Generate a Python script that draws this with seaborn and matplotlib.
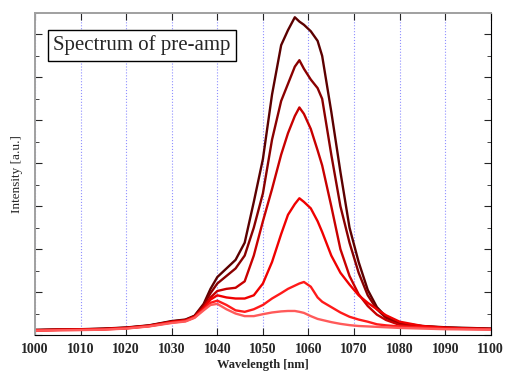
import numpy as np
import pandas as pd
import matplotlib
matplotlib.use('Agg')
import matplotlib.pyplot as plt
from matplotlib.ticker import MultipleLocator
import seaborn as sns

# wavelength grid (nm)
wavelength = [1000, 1005, 1010, 1015, 1020, 1025, 1030, 1033, 1035, 1037, 1038.5,
              1040, 1042, 1044, 1046, 1048, 1050, 1052, 1054, 1055.5, 1057, 1058,
              1059, 1060.5, 1062, 1063, 1065, 1067, 1069, 1071, 1073, 1075, 1077,
              1080, 1085, 1090, 1095, 1100]

# intensity (a.u.), darkest (highest pump) first
spec1 = [0.24, 0.26, 0.27, 0.30, 0.35, 0.45, 0.65, 0.72, 0.90, 1.45, 2.15,
         2.7, 3.1, 3.5, 4.3, 6.2, 8.2, 11.2, 13.5, 14.2, 14.8, 14.6,
         14.45, 14.15, 13.7, 13.0, 10.4, 7.6, 5.0, 3.4, 2.1, 1.3, 0.85,
         0.55, 0.42, 0.36, 0.33, 0.30]
spec2 = [0.23, 0.25, 0.26, 0.29, 0.34, 0.44, 0.63, 0.70, 0.88, 1.40, 1.95,
         2.4, 2.75, 3.1, 3.7, 5.0, 6.6, 9.1, 10.9, 11.7, 12.5, 12.8,
         12.4, 11.9, 11.5, 11.0, 8.4, 6.0, 4.3, 2.9, 1.85, 1.2, 0.8,
         0.52, 0.40, 0.34, 0.31, 0.29]
spec3 = [0.22, 0.24, 0.25, 0.28, 0.33, 0.43, 0.61, 0.68, 0.85, 1.30, 1.75,
         2.05, 2.15, 2.2, 2.5, 3.7, 5.3, 6.8, 8.4, 9.4, 10.2, 10.6,
         10.3, 9.6, 8.6, 7.9, 6.0, 4.0, 2.75, 1.9, 1.35, 0.95, 0.7,
         0.47, 0.36, 0.31, 0.29, 0.27]
spec4 = [0.22, 0.24, 0.25, 0.27, 0.32, 0.42, 0.60, 0.67, 0.84, 1.25, 1.65,
         1.85, 1.75, 1.7, 1.7, 1.85, 2.4, 3.4, 4.7, 5.6, 6.1, 6.37,
         6.2, 5.9, 5.3, 4.8, 3.7, 2.9, 2.35, 1.85, 1.5, 1.2, 0.92,
         0.62, 0.42, 0.34, 0.30, 0.28]
spec5 = [0.21, 0.23, 0.24, 0.26, 0.31, 0.41, 0.58, 0.65, 0.82, 1.20, 1.50,
         1.6, 1.4, 1.15, 1.08, 1.2, 1.4, 1.7, 1.95, 2.15, 2.3, 2.4,
         2.47, 2.25, 1.75, 1.55, 1.3, 1.05, 0.85, 0.72, 0.62, 0.5, 0.45,
         0.40, 0.35, 0.30, 0.28, 0.27]
spec6 = [0.20, 0.22, 0.23, 0.25, 0.30, 0.40, 0.56, 0.63, 0.80, 1.15, 1.40,
         1.45, 1.2, 1.0, 0.88, 0.88, 0.97, 1.05, 1.1, 1.12, 1.12, 1.08,
         1.03, 0.88, 0.75, 0.7, 0.6, 0.52, 0.46, 0.42, 0.40, 0.38, 0.36,
         0.33, 0.30, 0.27, 0.26, 0.25]

series = {'s1': spec1, 's2': spec2, 's3': spec3, 's4': spec4, 's5': spec5, 's6': spec6}
colors = ['#5c0000', '#8a0000', '#c80000', '#f00000', '#ff1a1a', '#ff5a5a']

df = pd.concat([pd.DataFrame({'wl': wavelength, 'I': v, 'run': k}) for k, v in series.items()])

sns.set_style('ticks')
plt.rcParams['font.family'] = ['Liberation Serif', 'DejaVu Serif']

fig = plt.figure(figsize=(5.06, 3.71), dpi=100)
ax = fig.add_axes([0.0692, 0.097, 0.9008, 0.868])

sns.lineplot(data=df, x='wl', y='I', hue='run', palette=colors, lw=1.7,
             legend=False, ax=ax)

ax.set_xlim(1000, 1100)
ax.set_ylim(0, 15)
ax.xaxis.set_major_locator(MultipleLocator(10))
ax.yaxis.set_major_locator(MultipleLocator(2))
ax.yaxis.set_minor_locator(MultipleLocator(1))
ax.set_yticklabels([])
ax.grid(axis='x', color='#9090ff', ls=':', lw=0.8)

ax.tick_params(axis='both', which='both', direction='in', top=True, right=True)
ax.tick_params(axis='x', which='major', length=5, labelsize=10, pad=6)
ax.tick_params(axis='y', which='major', length=5)
ax.tick_params(axis='y', which='minor', length=3)
for lab in ax.get_xticklabels():
    lab.set_fontweight('bold')

for s in ['top', 'left']:
    ax.spines[s].set_color('#a0a0a0')
    ax.spines[s].set_linewidth(1.4)
for s in ['bottom', 'right']:
    ax.spines[s].set_color('black')

ax.set_xlabel('Wavelength [nm]', fontsize=9, fontweight='bold', labelpad=2)
ax.set_ylabel('Intensity [a.u.]', fontsize=9.5, labelpad=5)

ax.text(0.04, 0.93, 'Spectrum of pre-amp', transform=ax.transAxes, fontsize=15,
        va='top', ha='left',
        bbox=dict(boxstyle='square,pad=0.25', fc='white', ec='black', lw=1))

fig.savefig('out.png', dpi=100)
